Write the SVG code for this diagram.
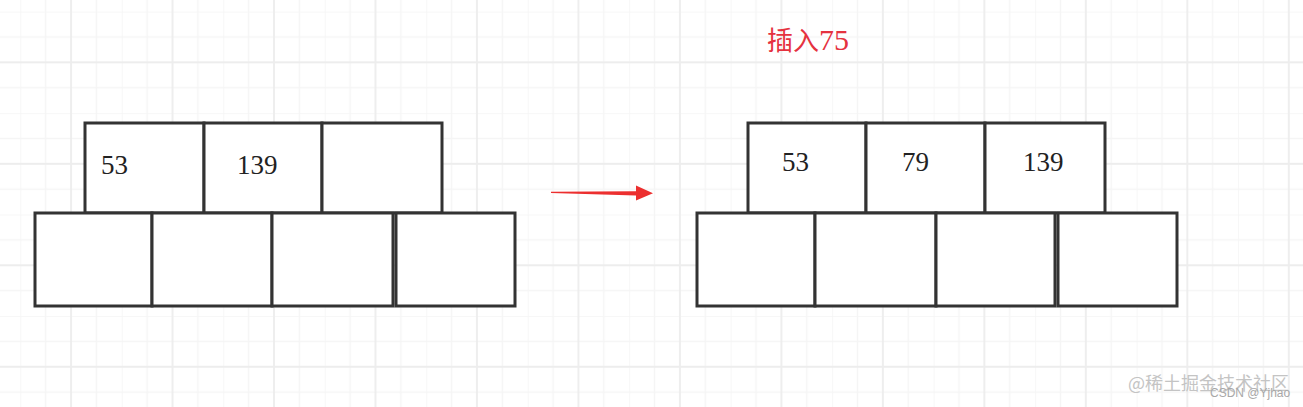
<svg xmlns="http://www.w3.org/2000/svg" width="1303" height="407" viewBox="0 0 1303 407">
<style>
.cell{fill:#ffffff;stroke:#333333;stroke-width:3;stroke-linejoin:miter}
.num{font-family:"Liberation Serif","Times New Roman",serif;font-size:27px;fill:#222222}
.title{font-family:"Liberation Serif","Noto Sans CJK SC",serif;font-size:26px;fill:#e5323f}
.wm{font-family:"Noto Sans CJK SC","Liberation Sans",sans-serif;font-size:18px;fill:#c4c4c4}
.wm2{font-family:"Liberation Sans",Arial,sans-serif;font-size:12px;fill:#a8a8a8}
</style>
<defs>
<pattern id="grid" x="20.3" y="11.6" width="101.48" height="101.48" patternUnits="userSpaceOnUse">
<g stroke="#f5f5f5" stroke-width="1.5">
<line x1="0" y1="0" x2="0" y2="101.48"/>
<line x1="25.37" y1="0" x2="25.37" y2="101.48"/>
<line x1="76.11" y1="0" x2="76.11" y2="101.48"/>
<line x1="0" y1="0" x2="101.48" y2="0"/>
<line x1="0" y1="25.37" x2="101.48" y2="25.37"/>
<line x1="0" y1="76.11" x2="101.48" y2="76.11"/>
</g>
<g stroke="#ededed" stroke-width="1.8">
<line x1="50.74" y1="0" x2="50.74" y2="101.48"/>
<line x1="0" y1="50.74" x2="101.48" y2="50.74"/>
</g>
</pattern>
</defs>
<rect x="0" y="0" width="1303" height="407" fill="#ffffff"/>
<rect x="0" y="0" width="1303" height="407" fill="url(#grid)"/>

<g id="title">
<text class="title" x="767" y="50">插入<tspan font-size="30">75</tspan></text>
</g>

<g id="left-node">
<g id="left-top">
<rect class="cell" x="85" y="123" width="119" height="90"/>
<rect class="cell" x="204" y="123" width="118" height="90"/>
<rect class="cell" x="322" y="123" width="120" height="90"/>
<text class="num" x="101" y="174">53</text>
<text class="num" x="237" y="174">139</text>
</g>
<g id="left-children">
<rect class="cell" x="35" y="213" width="117" height="93"/>
<rect class="cell" x="152" y="213" width="120" height="93"/>
<rect class="cell" x="272" y="213" width="121" height="93"/>
<rect class="cell" x="396" y="213" width="119" height="93"/>
</g>
</g>

<g id="right-node">
<g id="right-top">
<rect class="cell" x="748" y="123" width="118" height="90"/>
<rect class="cell" x="866" y="123" width="119" height="90"/>
<rect class="cell" x="985" y="123" width="120" height="90"/>
<text class="num" x="782" y="171">53</text>
<text class="num" x="902" y="171">79</text>
<text class="num" x="1023" y="171">139</text>
</g>
<g id="right-children">
<rect class="cell" x="697" y="213" width="118" height="93"/>
<rect class="cell" x="815" y="213" width="121" height="93"/>
<rect class="cell" x="936" y="213" width="119" height="93"/>
<rect class="cell" x="1058" y="213" width="119" height="93"/>
</g>
</g>

<g id="connectors">
<polygon points="551,191.8 636,191.2 636,185.5 653,193.3 636,200.5 636,195.4 551,193.0" fill="#ec2f2f"/>
</g>

<g id="watermark">
<text class="wm" x="1128" y="390">@稀土掘金技术社区</text>
<text class="wm2" x="1210" y="397">CSDN @Yjhao</text>
</g>
</svg>
